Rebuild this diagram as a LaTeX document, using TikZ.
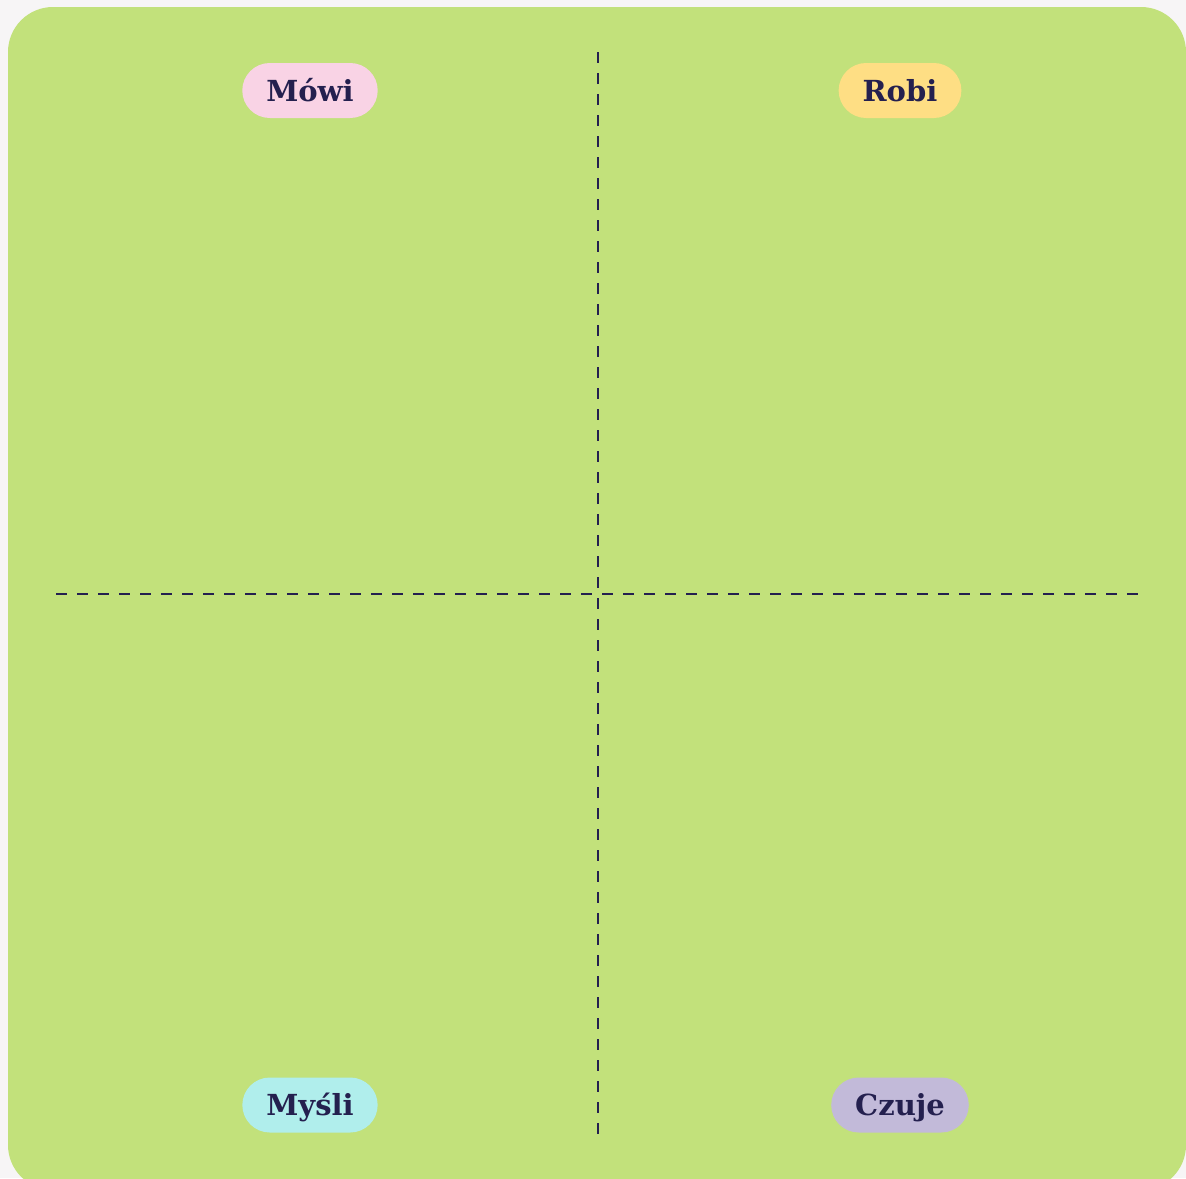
\documentclass[tikz,border=0pt]{standalone}
\usepackage{fontspec}
\setmainfont{DejaVu Serif}
\usepackage{tikz}
\usetikzlibrary{positioning}
\definecolor{paper}{RGB}{247,245,246}
\definecolor{board}{RGB}{194,225,123}
\definecolor{ink}{RGB}{36,32,79}
\definecolor{pillpink}{RGB}{249,211,229}
\definecolor{pillyellow}{RGB}{254,222,132}
\definecolor{pillcyan}{RGB}{176,238,236}
\definecolor{pilllilac}{RGB}{194,186,217}
\tikzset{
  pill/.style={rounded corners=27.5pt, inner xsep=24pt, inner ysep=17pt,
    text height=21pt, text depth=0pt, text=ink,
    font=\fontsize{29}{34}\selectfont\bfseries},
  divider/.style={ink, line width=2.7pt, dash pattern=on 10.5pt off 10.5pt}
}

\begin{document}
\begin{tikzpicture}[x=1pt, y=-1pt]
  \useasboundingbox (0,0) rectangle (1186,1178);
  \fill[paper] (0,0) rectangle (1186,1178);
  \clip (0,0) rectangle (1186,1178);
  \fill[board, rounded corners=45pt] (8,7) rectangle (1186,1190);
  % Dividers
  \coordinate (top) at (598,52);
  \coordinate (bottom) at (598,1136);
  \coordinate (left) at (56,594);
  \coordinate (right) at (1141,594);
  \draw[divider] (top) -- (bottom);
  \draw[divider] (left) -- (right);
  % Quadrant labels
  \node[pill, fill=pillpink] (says) at (310,90.5) {Mówi};
  \node[pill, fill=pillyellow] (does) at (900,90.5) {Robi};
  \node[pill, fill=pillcyan] (thinks) at (310,1105) {Myśli};
  \node[pill, fill=pilllilac] (feels) at (900,1105) {Czuje};
\end{tikzpicture}
\end{document}
